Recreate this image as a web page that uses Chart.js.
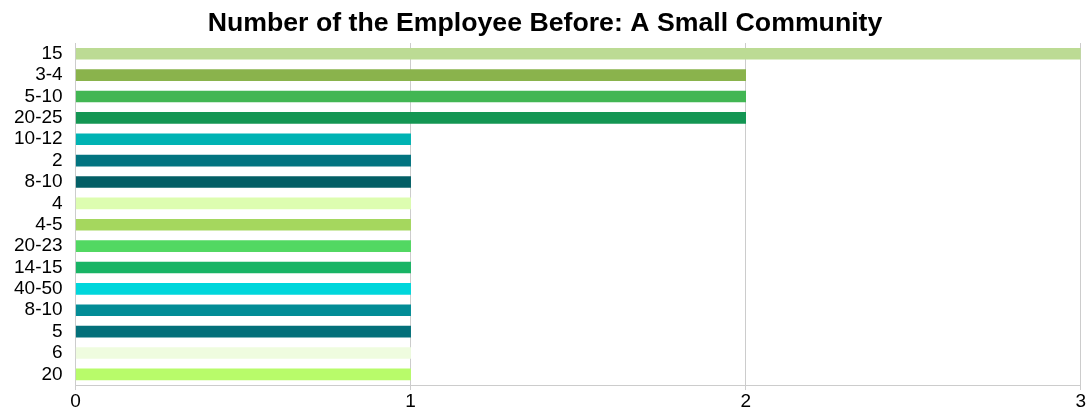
<!DOCTYPE html>
<html>
<head>
<meta charset="utf-8">
<script src="https://cdn.jsdelivr.net/npm/chart.js@4.4.1/dist/chart.umd.min.js"></script>
<style>
  html, body { margin: 0; padding: 0; background: #fff; }
  #wrap { width: 1088px; height: 414px; position: relative; }
</style>
</head>
<body>
<div id="wrap"><canvas id="employeeChart"></canvas></div>
<script>
// employee counts per group size
const categories = ['15', '3-4', '5-10', '20-25', '10-12', '2', '8-10', '4', '4-5', '20-23', '14-15', '40-50', '8-10', '5', '6', '20'];
const counts = [3, 2, 2, 2, 1, 1, 1, 1, 1, 1, 1, 1, 1, 1, 1, 1];
const barColors = [
    '#bcdb94', '#8ab34c', '#42b653', '#149653',
    '#00b3b3', '#027480', '#035f66', '#ddfdb0',
    '#a5d75e', '#52d862', '#18b465', '#00d6db',
    '#028c96', '#03707a', '#effcdf', '#b8fb6a'
];
const xTicks = [0, 1, 2, 3];

const fontFamily = '"Liberation Sans", Arial, Helvetica, sans-serif';

const ctx = document.getElementById('employeeChart').getContext('2d');
new Chart(ctx, {
    type: 'bar',
    data: {
        labels: categories,
        datasets: [{
            data: counts,
            backgroundColor: barColors,
            borderWidth: 0,
            barThickness: 11
        }]
    },
    options: {
        indexAxis: 'y',
        responsive: true,
        maintainAspectRatio: false,
        animation: false,
        layout: {
            padding: { left: 9, right: 7, top: 0, bottom: 0 }
        },
        plugins: {
            legend: { display: false },
            tooltip: { enabled: false },
            title: {
                display: true,
                text: 'Number of the Employee Before: A Small Community',
                color: '#000',
                font: { family: fontFamily, size: 26.7, weight: 'bold' },
                padding: { top: 8, bottom: 3 }
            }
        },
        scales: {
            x: {
                min: 0,
                max: 3,
                afterBuildTicks: function(axis) {
                    axis.ticks = xTicks.map(v => ({ value: v }));
                },
                grid: {
                    color: '#cccccc',
                    lineWidth: 1,
                    tickLength: 5
                },
                border: { color: '#cccccc' },
                ticks: {
                    color: '#000',
                    padding: 2,
                    font: { family: fontFamily, size: 19, lineHeight: 1.05 }
                }
            },
            y: {
                grid: { display: false },
                border: { color: '#cccccc' },
                ticks: {
                    color: '#000',
                    padding: 5,
                    autoSkip: false,
                    font: { family: fontFamily, size: 19 }
                }
            }
        }
    }
});
</script>
</body>
</html>
